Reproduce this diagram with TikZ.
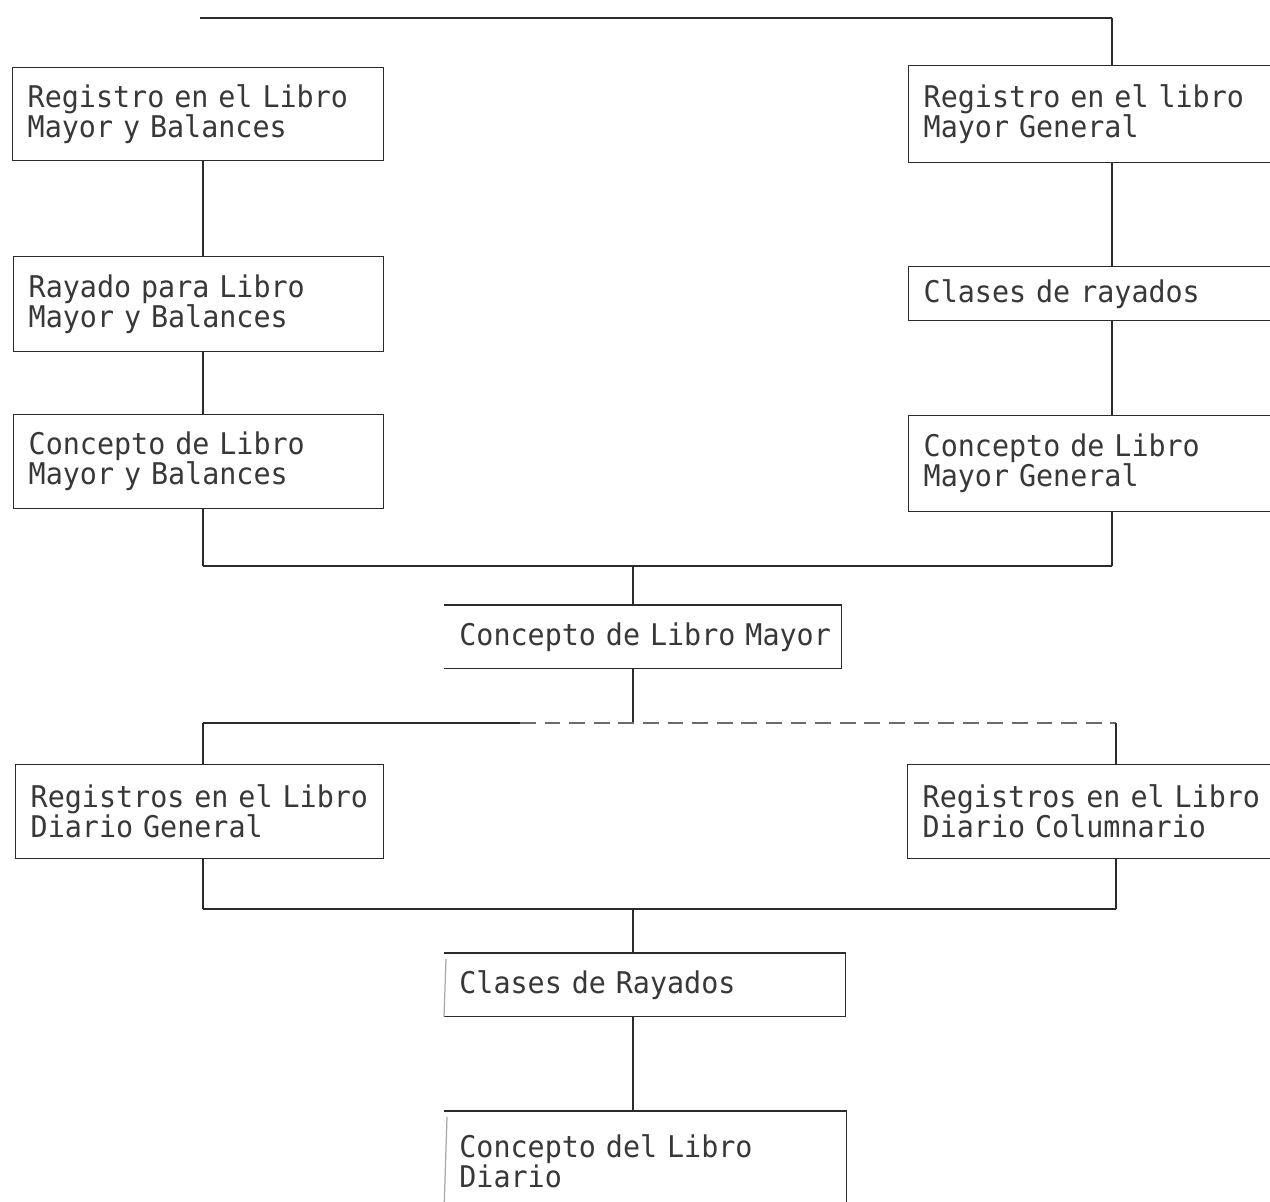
\documentclass[tikz,border=0pt]{standalone}
\usepackage{fontspec}
\newfontfamily\typewriter[FakeStretch=0.95]{DejaVu Sans Mono}
\usetikzlibrary{calc}
\definecolor{ink}{HTML}{2B2B2B}
\definecolor{inktext}{HTML}{383838}
\definecolor{faint}{HTML}{A8A8A8}
\tikzset{
  box/.style={anchor=north west, inner xsep=0.3cm, inner ysep=0pt, align=left,
    font=\typewriter\fontsize{17}{17.07}\selectfont, text=inktext},
  framed/.style={draw=ink, line width=0.8pt},
  link/.style={draw=ink, line width=0.8pt},
  bus/.style={draw=ink, line width=1.6pt},
  broken/.style={draw=ink!70, line width=0.8pt, dash pattern=on 9pt off 5pt},
}
\begin{document}
\begin{tikzpicture}[x=0.02cm, y=-0.02cm]
  \clip (0,0) rectangle (1270,1202);
  \fill[white] (0,0) rectangle (1270,1202);

  % column positions and bus levels
  \coordinate (xl) at (203,0);
  \coordinate (xr) at (1112,0);
  \coordinate (xr2) at (1116,0);
  \coordinate (xc) at (633,0);
  \coordinate (top) at (200,18);
  \coordinate (j1) at (0,566);
  \coordinate (s1) at (0,723);
  \coordinate (sbreak) at (520,723);
  \coordinate (j2) at (0,909);

  % left column
  \node[box,framed,minimum width=7.42cm,minimum height=1.86cm,text width=6.82cm] (L1) at (12,67)
    {Registro en el Libro\\Mayor y Balances};
  \node[box,framed,minimum width=7.40cm,minimum height=1.90cm,text width=6.80cm] (L2) at (13,256)
    {Rayado para Libro\\Mayor y Balances};
  \node[box,framed,minimum width=7.40cm,minimum height=1.88cm,text width=6.80cm] (L3) at (13,414)
    {Concepto de Libro\\Mayor y Balances};

  % right column
  \node[box,framed,minimum width=7.84cm,minimum height=1.94cm,text width=7.24cm] (R1) at (908,65)
    {Registro en el libro\\Mayor General};
  \node[box,framed,minimum width=7.84cm,minimum height=1.08cm,text width=7.24cm] (R2) at (908,266)
    {Clases de rayados};
  \node[box,framed,minimum width=7.84cm,minimum height=1.92cm,text width=7.24cm] (R3) at (908,415)
    {Concepto de Libro\\Mayor General};

  % centre
  \node[box,minimum width=7.94cm,minimum height=1.26cm,text width=7.34cm] (C1) at (444,605)
    {\mbox{Concepto de Libro Mayor}};
  \draw[link] (C1.north west) -- (C1.north east) -- (C1.south east) -- (C1.south west);

  % journals
  \node[box,framed,minimum width=7.36cm,minimum height=1.88cm,text width=6.76cm] (L4) at (15,764)
    {Registros en el Libro\\Diario General};
  \node[box,framed,minimum width=7.86cm,minimum height=1.88cm,text width=7.26cm] (R4) at (907,764)
    {Registros en el Libro\\Diario Columnario};

  \node[box,minimum width=8.02cm,minimum height=1.26cm,text width=7.42cm] (C2) at (444,953)
    {Clases de Rayados};
  \draw[link] (C2.north west) -- (C2.north east) -- (C2.south east) -- (C2.south west);
  \draw[faint, line width=0.7pt] (C2.south west) -- ($(C2.north west)+(2,6)$);

  \node[box,minimum width=8.04cm,minimum height=2.0cm,text width=7.44cm] (C3) at (444,1111)
    {Concepto del Libro\\Diario};
  \draw[link] (C3.north west) -- (C3.north east) -- (C3.south east);
  \draw[faint, line width=0.7pt] ($(C3.north west)+(3,6)$) -- (C3.south west);

  % connectors
  \draw[bus] (top) -- (top -| xr);
  \draw[link] (top -| xr) -- (R1.north -| xr);
  \draw[link] (L1.south -| xl) -- (L2.north -| xl);
  \draw[link] (L2.south -| xl) -- (L3.north -| xl);
  \draw[link] (R1.south -| xr) -- (R2.north -| xr);
  \draw[link] (R2.south -| xr) -- (R3.north -| xr);

  \draw[link] (L3.south -| xl) -- (j1 -| xl);
  \draw[link] (R3.south -| xr) -- (j1 -| xr);
  \draw[bus] (j1 -| xl) -- (j1 -| xr);
  \draw[link] (j1 -| xc) -- (C1.north -| xc);

  \draw[link] (C1.south -| xc) -- (s1 -| xc);
  \draw[link] (s1 -| xl) -- (sbreak);
  \draw[broken] (sbreak) -- (s1 -| xr2);
  \draw[link] (s1 -| xl) -- (L4.north -| xl);
  \draw[link] (s1 -| xr2) -- (R4.north -| xr2);

  \draw[link] (L4.south -| xl) -- (j2 -| xl);
  \draw[link] (R4.south -| xr2) -- (j2 -| xr2);
  \draw[bus] (j2 -| xl) -- (j2 -| xr2);
  \draw[link] (j2 -| xc) -- (C2.north -| xc);
  \draw[link] (C2.south -| xc) -- (C3.north -| xc);
\end{tikzpicture}
\end{document}
